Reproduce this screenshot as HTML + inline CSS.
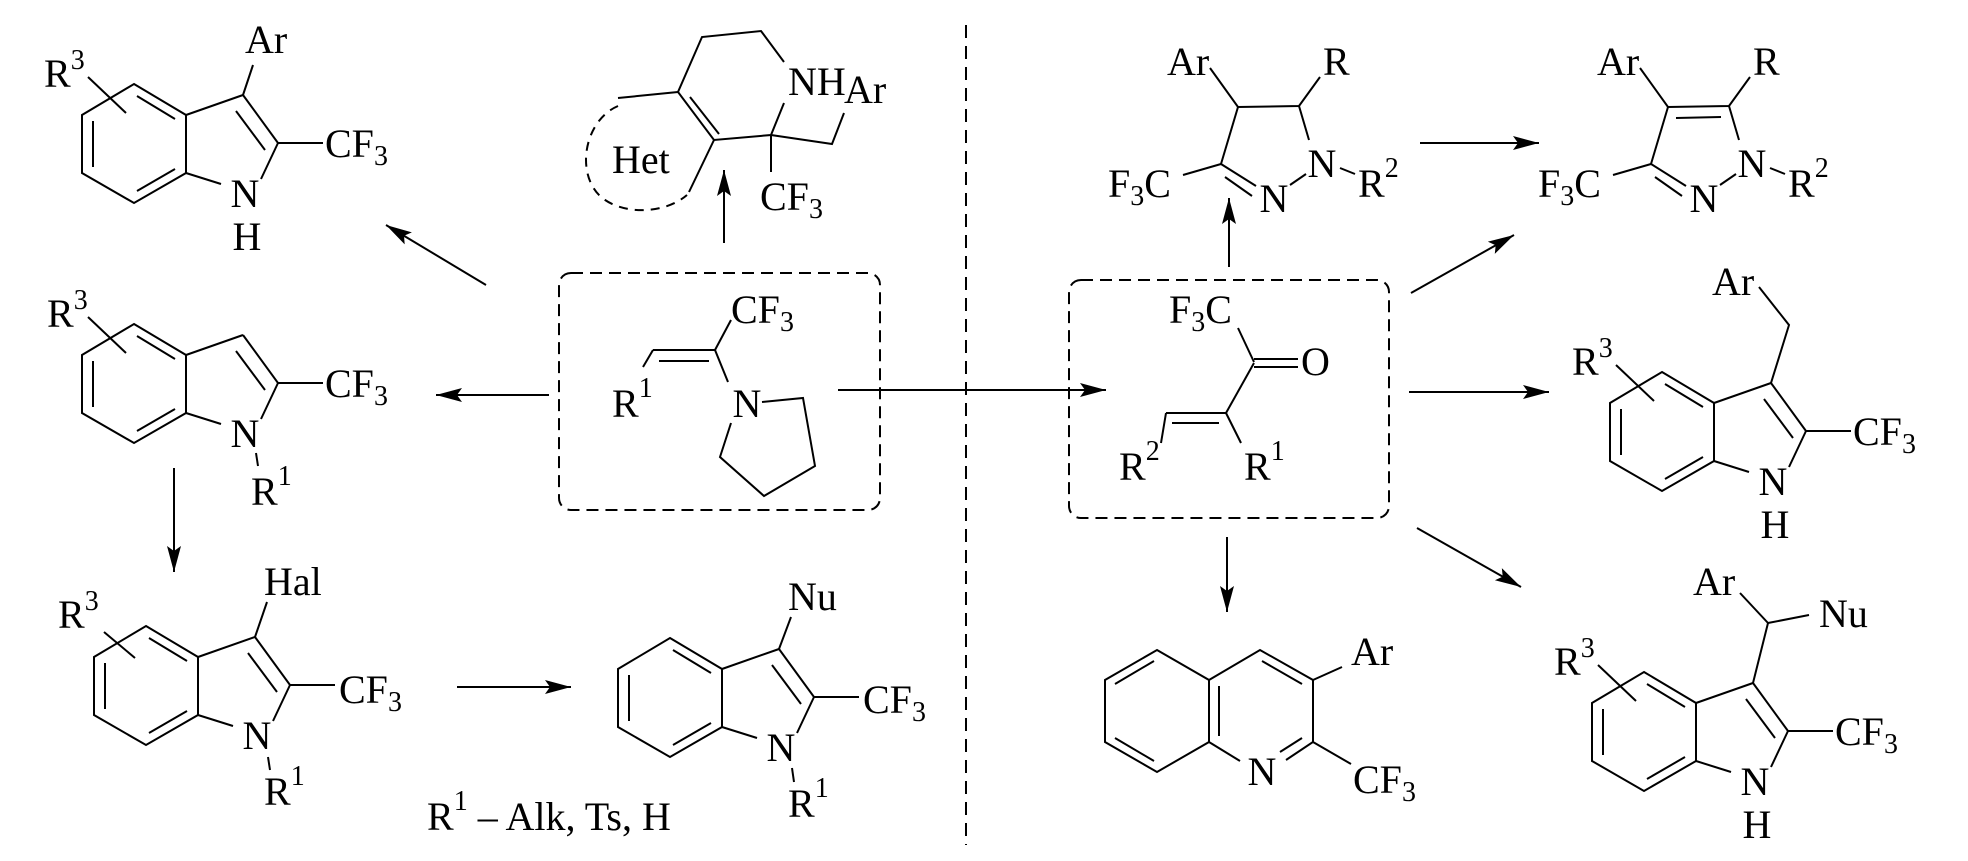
<!DOCTYPE html>
<html><head><meta charset="utf-8"><style>
html,body{margin:0;padding:0;background:#fff;}
svg{display:block;}
text{font-family:"Liberation Serif",serif;font-size:40px;fill:#000;}
.s{font-size:28px;}
</style></head><body>
<svg width="1968" height="861" viewBox="0 0 1968 861" xmlns="http://www.w3.org/2000/svg">
<defs>
<marker id="ah" markerUnits="userSpaceOnUse" markerWidth="28" markerHeight="16" refX="26" refY="7" orient="auto">
<path d="M0,0 L26,7 L0,14 L5,7 z" fill="#000"/>
</marker>
<g id="ind" stroke="#000" stroke-width="2" fill="none">
<polygon points="134,84 186,115 186,173 134,203 82,173 82,115"/>
<line x1="93" y1="121" x2="93" y2="167"/>
<line x1="137" y1="96" x2="175" y2="119"/>
<line x1="137" y1="191" x2="175" y2="169"/>
<line x1="186" y1="115" x2="243" y2="95"/>
<line x1="243" y1="95" x2="278" y2="143"/>
<line x1="236" y1="111" x2="265" y2="150"/>
<line x1="186" y1="173" x2="221" y2="184"/>
<line x1="278" y1="143" x2="261" y2="179"/>
<line x1="278" y1="143" x2="323" y2="143"/>
</g>
</defs>

<line x1="966" y1="25" x2="966" y2="845" stroke="#000" stroke-width="2" stroke-dasharray="13,8"/>

<g>
<use href="#ind"/>
<g stroke="#000" stroke-width="2"><line x1="243" y1="95" x2="253" y2="65"/><line x1="88" y1="77" x2="126" y2="113"/></g>
<text x="245" y="53">Ar</text>
<text x="325" y="157">CF<tspan class="s" dy="8">3</tspan></text>
<text x="245" y="207" text-anchor="middle">N</text>
<text x="247" y="250" text-anchor="middle">H</text>
<text x="44" y="87">R<tspan class="s" dy="-18">3</tspan></text>
</g>

<g transform="translate(0,240)">
<use href="#ind"/>
<g stroke="#000" stroke-width="2"><line x1="256" y1="213" x2="258" y2="226"/><line x1="88" y1="77" x2="126" y2="113"/></g>
<text x="325" y="157">CF<tspan class="s" dy="8">3</tspan></text>
<text x="245" y="207" text-anchor="middle">N</text>
<text x="251" y="265">R<tspan class="s" dy="-20">1</tspan></text>
<text x="47" y="87">R<tspan class="s" dy="-18">3</tspan></text>
</g>

<g transform="translate(12,542)">
<use href="#ind"/>
<g stroke="#000" stroke-width="2"><line x1="243" y1="95" x2="255" y2="60"/><line x1="256" y1="215" x2="258" y2="228"/><line x1="92" y1="90" x2="123" y2="116"/></g>
<text x="252" y="53">Hal</text>
<text x="327" y="161">CF<tspan class="s" dy="8">3</tspan></text>
<text x="245" y="207" text-anchor="middle">N</text>
<text x="252" y="263">R<tspan class="s" dy="-20">1</tspan></text>
<text x="46" y="86">R<tspan class="s" dy="-18">3</tspan></text>
</g>

<g transform="translate(536,554)">
<use href="#ind"/>
<g stroke="#000" stroke-width="2"><line x1="243" y1="95" x2="255" y2="63"/><line x1="256" y1="214" x2="258" y2="228"/></g>
<text x="252" y="56">Nu</text>
<text x="327" y="159">CF<tspan class="s" dy="8">3</tspan></text>
<text x="245" y="207" text-anchor="middle">N</text>
<text x="252" y="263">R<tspan class="s" dy="-20">1</tspan></text>
</g>
<text x="427" y="830">R<tspan class="s" dy="-20">1</tspan><tspan dy="20"> – Alk, Ts, H</tspan></text>

<g stroke="#000" stroke-width="2" fill="none">
<polyline points="784,62 761,31 702,37 678,92 714,140 771,135 784,103"/>
<line x1="690" y1="97" x2="719" y2="134"/>
<line x1="678" y1="92" x2="618" y2="98"/>
<line x1="714" y1="140" x2="689" y2="192"/>
<polyline points="771,135 832,144 844,113"/>
<line x1="771" y1="135" x2="771" y2="172"/>
<path d="M618,106 C585,120 575,172 600,196 C622,216 665,214 687,195" stroke-dasharray="9,7"/>
</g>
<text x="788" y="95">NH</text>
<text x="844" y="103">Ar</text>
<text x="612" y="173">Het</text>
<text x="760" y="210">CF<tspan class="s" dy="8">3</tspan></text>

<rect x="559" y="273" width="321" height="237" rx="12" fill="none" stroke="#000" stroke-width="2" stroke-dasharray="12,7"/>
<g stroke="#000" stroke-width="2" fill="none">
<line x1="653" y1="350" x2="715" y2="350"/>
<line x1="659" y1="361" x2="709" y2="361"/>
<line x1="653" y1="350" x2="643" y2="367"/>
<line x1="715" y1="350" x2="731" y2="320"/>
<line x1="715" y1="350" x2="728" y2="382"/>
<polyline points="762,402 803,398 815,466 764,496 720,457 731,423"/>
</g>
<text x="731" y="323">CF<tspan class="s" dy="8">3</tspan></text>
<text x="612" y="417">R<tspan class="s" dy="-20">1</tspan></text>
<text x="747" y="417" text-anchor="middle">N</text>

<g stroke="#000" stroke-width="2" marker-end="url(#ah)">
<line x1="724" y1="243" x2="724" y2="170"/>
<line x1="486" y1="285" x2="386" y2="225"/>
<line x1="549" y1="395" x2="436" y2="395"/>
<line x1="174" y1="468" x2="174" y2="572"/>
<line x1="457" y1="687" x2="571" y2="687"/>
<line x1="838" y1="390" x2="1106" y2="390"/>
</g>

<g stroke="#000" stroke-width="2" fill="none">
<polyline points="1210,68 1238,107 1299,106 1320,77"/>
<line x1="1238" y1="107" x2="1221" y2="164"/>
<line x1="1299" y1="106" x2="1309" y2="140"/>
<line x1="1221" y1="164" x2="1256" y2="186"/>
<line x1="1225" y1="177" x2="1252" y2="196"/>
<line x1="1290" y1="185" x2="1306" y2="174"/>
<line x1="1183" y1="175" x2="1221" y2="164"/>
<line x1="1340" y1="168" x2="1355" y2="174"/>
</g>
<text x="1167" y="75">Ar</text>
<text x="1323" y="75">R</text>
<text x="1108" y="197">F<tspan class="s" dy="8">3</tspan><tspan dy="-8">C</tspan></text>
<text x="1274" y="212" text-anchor="middle">N</text>
<text x="1322" y="177" text-anchor="middle">N</text>
<text x="1358" y="197">R<tspan class="s" dy="-20">2</tspan></text>

<g transform="translate(430,0)">
<g stroke="#000" stroke-width="2" fill="none">
<polyline points="1210,68 1238,107 1299,106 1320,77"/>
<line x1="1246" y1="118" x2="1291" y2="117"/>
<line x1="1238" y1="107" x2="1221" y2="164"/>
<line x1="1299" y1="106" x2="1309" y2="140"/>
<line x1="1221" y1="164" x2="1256" y2="186"/>
<line x1="1225" y1="177" x2="1252" y2="196"/>
<line x1="1290" y1="185" x2="1306" y2="174"/>
<line x1="1183" y1="175" x2="1221" y2="164"/>
<line x1="1340" y1="168" x2="1355" y2="174"/>
</g>
<text x="1167" y="75">Ar</text>
<text x="1323" y="75">R</text>
<text x="1108" y="197">F<tspan class="s" dy="8">3</tspan><tspan dy="-8">C</tspan></text>
<text x="1274" y="212" text-anchor="middle">N</text>
<text x="1322" y="177" text-anchor="middle">N</text>
<text x="1358" y="197">R<tspan class="s" dy="-20">2</tspan></text>
</g>

<rect x="1069" y="280" width="320" height="238" rx="12" fill="none" stroke="#000" stroke-width="2" stroke-dasharray="12,7"/>
<g stroke="#000" stroke-width="2" fill="none">
<line x1="1238" y1="328" x2="1254" y2="362"/>
<line x1="1254" y1="359" x2="1298" y2="359"/>
<line x1="1254" y1="367" x2="1298" y2="367"/>
<line x1="1254" y1="363" x2="1226" y2="413"/>
<line x1="1166" y1="413" x2="1226" y2="413"/>
<line x1="1172" y1="423" x2="1219" y2="423"/>
<line x1="1226" y1="413" x2="1241" y2="443"/>
<line x1="1166" y1="413" x2="1161" y2="443"/>
</g>
<text x="1169" y="323">F<tspan class="s" dy="8">3</tspan><tspan dy="-8">C</tspan></text>
<text x="1301" y="375">O</text>
<text x="1119" y="480">R<tspan class="s" dy="-20">2</tspan></text>
<text x="1244" y="480">R<tspan class="s" dy="-20">1</tspan></text>

<g stroke="#000" stroke-width="2" marker-end="url(#ah)">
<line x1="1420" y1="143" x2="1539" y2="143"/>
<line x1="1229" y1="267" x2="1229" y2="198"/>
<line x1="1411" y1="293" x2="1514" y2="235"/>
<line x1="1409" y1="392" x2="1549" y2="392"/>
<line x1="1227" y1="537" x2="1227" y2="612"/>
<line x1="1417" y1="528" x2="1521" y2="587"/>
</g>

<g transform="translate(1528,288)">
<use href="#ind"/>
<g stroke="#000" stroke-width="2" fill="none"><polyline points="243,95 261,37 231,-1"/><line x1="88" y1="77" x2="126" y2="113"/></g>
<text x="184" y="7">Ar</text>
<text x="325" y="157">CF<tspan class="s" dy="8">3</tspan></text>
<text x="245" y="207" text-anchor="middle">N</text>
<text x="247" y="250" text-anchor="middle">H</text>
<text x="44" y="87">R<tspan class="s" dy="-18">3</tspan></text>
</g>

<g transform="translate(1510,588)">
<use href="#ind"/>
<g stroke="#000" stroke-width="2" fill="none"><line x1="243" y1="95" x2="258" y2="35"/><line x1="258" y1="35" x2="230" y2="5"/><line x1="258" y1="35" x2="299" y2="27"/><line x1="88" y1="77" x2="126" y2="113"/></g>
<text x="183" y="7">Ar</text>
<text x="309" y="39">Nu</text>
<text x="325" y="157">CF<tspan class="s" dy="8">3</tspan></text>
<text x="245" y="207" text-anchor="middle">N</text>
<text x="247" y="250" text-anchor="middle">H</text>
<text x="44" y="87">R<tspan class="s" dy="-18">3</tspan></text>
</g>

<g stroke="#000" stroke-width="2" fill="none">
<polygon points="1157,650 1209,680 1209,742 1157,772 1105,742 1105,680"/>
<polyline points="1209,680 1260,650 1313,680 1313,742 1286,760"/>
<line x1="1209" y1="742" x2="1240" y2="761"/>
<line x1="1154" y1="661" x2="1115" y2="684"/>
<line x1="1115" y1="738" x2="1154" y2="761"/>
<line x1="1219" y1="686" x2="1219" y2="736"/>
<line x1="1262" y1="661" x2="1302" y2="684"/>
<line x1="1302" y1="738" x2="1280" y2="752"/>
<line x1="1313" y1="680" x2="1342" y2="667"/>
<line x1="1313" y1="742" x2="1351" y2="764"/>
</g>
<text x="1351" y="665">Ar</text>
<text x="1262" y="785" text-anchor="middle">N</text>
<text x="1353" y="793">CF<tspan class="s" dy="8">3</tspan></text>
</svg>
</body></html>
